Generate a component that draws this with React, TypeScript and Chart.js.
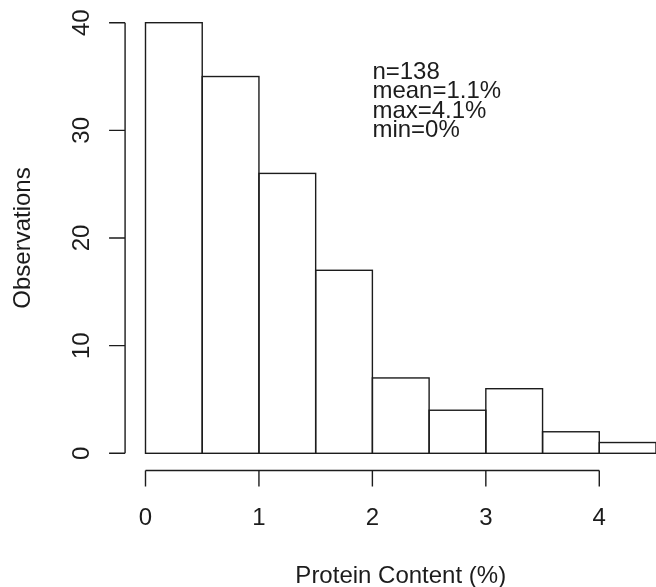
import React, { useEffect, useRef } from "react";
import { Chart, registerables } from "chart.js";

Chart.register(...registerables);

// ---- data ----
const binStarts = [0, 0.5, 1, 1.5, 2, 2.5, 3, 3.5, 4];
const binWidth = 0.5;
const counts = [40, 35, 26, 17, 7, 4, 6, 2, 1];
const xTickValues = [0, 1, 2, 3, 4];
const xTickLabels = ["0", "1", "2", "3", "4"];
const yTickValues = [0, 10, 20, 30, 40];
const yTickLabels = ["0", "10", "20", "30", "40"];
const statsLines = ["n=138", "mean=1.1%", "max=4.1%", "min=0%"];
const statsAnchor = { x: 2, y: 34.8 };
const xTitle = "Protein Content (%)";
const yTitle = "Observations";

const FONT = '24px "Liberation Sans", Arial, Helvetica, sans-serif';
const INK = "#1c1c1c";

const histPlugin = {
  id: "rhist",
  afterDatasetsDraw(chart: any) {
    const ctx = chart.ctx;
    const meta = chart.getDatasetMeta(0);
    ctx.save();
    ctx.strokeStyle = INK;
    ctx.lineWidth = 1.4;
    meta.data.forEach((el: any) => {
      const p = el.getProps(["x", "y", "base", "width"], true);
      ctx.strokeRect(p.x - p.width / 2, p.y, p.width, p.base - p.y);
    });
    ctx.restore();
  },
  afterDraw(chart: any) {
    const ctx = chart.ctx;
    const xs = chart.scales.x;
    const ys = chart.scales.y;
    const xRange = xs.max - xs.min;
    const yRange = ys.max - ys.min;
    const axisX = xs.getPixelForValue(xs.min - 0.04 * xRange);
    const axisY = ys.getPixelForValue(ys.min - 0.04 * yRange);
    const tick = 16;
    ctx.save();
    ctx.strokeStyle = INK;
    ctx.fillStyle = INK;
    ctx.lineWidth = 1.4;
    ctx.font = FONT;

    // x axis
    ctx.beginPath();
    ctx.moveTo(xs.getPixelForValue(xTickValues[0]), axisY);
    ctx.lineTo(xs.getPixelForValue(xTickValues[xTickValues.length - 1]), axisY);
    xTickValues.forEach((v) => {
      const px = xs.getPixelForValue(v);
      ctx.moveTo(px, axisY);
      ctx.lineTo(px, axisY + tick);
    });
    ctx.stroke();
    ctx.textAlign = "center";
    ctx.textBaseline = "middle";
    xTickValues.forEach((v, i) => {
      ctx.fillText(xTickLabels[i], xs.getPixelForValue(v), 518);
    });

    // y axis
    ctx.beginPath();
    ctx.moveTo(axisX, ys.getPixelForValue(yTickValues[0]));
    ctx.lineTo(axisX, ys.getPixelForValue(yTickValues[yTickValues.length - 1]));
    yTickValues.forEach((v) => {
      const py = ys.getPixelForValue(v);
      ctx.moveTo(axisX, py);
      ctx.lineTo(axisX - tick, py);
    });
    ctx.stroke();
    yTickValues.forEach((v, i) => {
      const py = ys.getPixelForValue(v);
      ctx.save();
      ctx.translate(82, py);
      ctx.rotate(-Math.PI / 2);
      ctx.textAlign = "center";
      ctx.textBaseline = "middle";
      ctx.fillText(yTickLabels[i], 0, 0);
      ctx.restore();
    });

    // titles
    const plotLeft = axisX;
    const plotRight = xs.getPixelForValue(xs.max + 0.04 * xRange);
    ctx.textAlign = "center";
    ctx.textBaseline = "alphabetic";
    ctx.fillText(xTitle, (plotLeft + plotRight) / 2, 583);

    const plotTop = ys.getPixelForValue(ys.max + 0.04 * yRange);
    ctx.save();
    ctx.translate(23, (plotTop + axisY) / 2);
    ctx.rotate(-Math.PI / 2);
    ctx.textAlign = "center";
    ctx.textBaseline = "middle";
    ctx.fillText(yTitle, 0, 0);
    ctx.restore();

    // stats text
    ctx.textAlign = "left";
    ctx.textBaseline = "alphabetic";
    const sx = xs.getPixelForValue(statsAnchor.x);
    const sy = ys.getPixelForValue(statsAnchor.y);
    statsLines.forEach((line, i) => {
      ctx.fillText(line, sx, sy + i * 19.6);
    });
    ctx.restore();
  },
};

export default function App() {
  const ref = useRef<HTMLCanvasElement | null>(null);
  useEffect(() => {
    if (!ref.current) return;
    const chart = new Chart(ref.current, {
      type: "bar",
      data: {
        datasets: [
          {
            data: binStarts.map((s, i) => ({ x: s + binWidth / 2, y: counts[i] })),
            backgroundColor: "#ffffff",
            borderWidth: 0,
            barPercentage: 1,
            categoryPercentage: 1,
            clip: false as any,
          },
        ],
      },
      options: {
        animation: false,
        responsive: false,
        maintainAspectRatio: false,
        layout: { padding: { left: 145.5, right: 0, top: 22.7, bottom: 133.7 } },
        plugins: { legend: { display: false }, tooltip: { enabled: false } },
        scales: {
          x: { type: "linear", min: 0, max: 4.5, offset: false, display: false },
          y: { type: "linear", min: 0, max: 40, display: false },
        },
      },
      plugins: [histPlugin],
    });
    return () => chart.destroy();
  }, []);
  return (
    <div style={{ position: "absolute", left: 0, top: 0, width: 656, height: 587, background: "#fff" }}>
      <canvas ref={ref} width={656} height={587} style={{ display: "block", width: 656, height: 587 }} />
    </div>
  );
}
